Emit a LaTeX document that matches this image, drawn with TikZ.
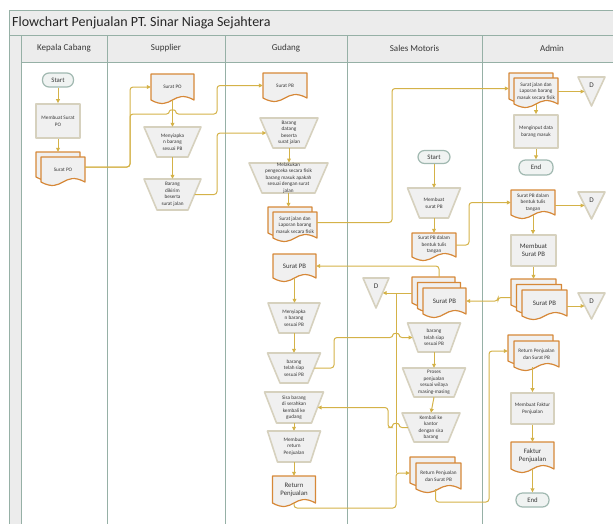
\documentclass[tikz,border=0pt]{standalone}
\usepackage{fontspec}
\setmainfont{Carlito}
\usetikzlibrary{arrows.meta,calc}

\definecolor{laneline}{RGB}{150,176,166}
\definecolor{bandfill}{RGB}{236,236,236}
\definecolor{shapefill}{RGB}{240,240,240}
\definecolor{procline}{RGB}{214,209,190}
\definecolor{docline}{RGB}{214,136,56}
\definecolor{termline}{RGB}{160,184,176}
\definecolor{termfill}{RGB}{240,243,242}
\definecolor{flow}{RGB}{212,178,72}
\definecolor{ink}{RGB}{55,55,55}

\tikzset{
  lane/.style={draw=laneline, line width=0.9pt},
  proc/.style={draw=procline, fill=shapefill, line width=1.6pt, line join=round},
  docu/.style={draw=docline, fill=shapefill, line width=1.2pt, line join=round},
  term/.style={draw=termline, fill=termfill, line width=1.2pt, rounded corners=6.5pt},
  lbl/.style={inner sep=0pt, text=ink, align=center, font=\fontsize{5.2}{6.5}\selectfont},
  lblm/.style={lbl, font=\fontsize{6.8}{8.2}\selectfont},
  head/.style={inner sep=0pt, text=ink, font=\fontsize{9}{11}\selectfont},
  flowline/.style={draw=flow, line width=1.0pt, rounded corners=3pt},
  conn/.style={flowline, -{Triangle[length=4pt,width=3.8pt]}},
  hop/.style={insert path={-- ($(#1)+(-3,0)$) .. controls ($(#1)+(-3,-4.5)$) and ($(#1)+(3,-4.5)$) .. ($(#1)+(3,0)$)}},
  hopback/.style={insert path={-- ($(#1)+(3,0)$) .. controls ($(#1)+(3,-4.5)$) and ($(#1)+(-3,-4.5)$) .. ($(#1)+(-3,0)$)}},
}

% document with wavy bottom: name, x, y, w, h, text style, text
\newcommand\docat[7]{%
  \path[docu] (#2,#3) -- ({#2+#4},#3) -- ({#2+#4},{#3+#5})
     .. controls ({#2+#4/2},{#3+#5-12}) and ({#2+#4/2},{#3+#5+12}) .. (#2,{#3+#5}) -- cycle;
  \node[#6, minimum width=#4, minimum height=#5] (#1) at ({#2+#4/2},{#3+#5/2}) {#7};}

% stack of documents: name, x, y, w, h, count, offset, text style, text
\newcommand\stackat[9]{%
  \foreach \k in {1,...,#6} {
    \pgfmathsetmacro\dd{(\k-1)*#7}
    \path[docu] ({#2+\dd},{#3+\dd}) -- ({#2+\dd+#4},{#3+\dd}) -- ({#2+\dd+#4},{#3+\dd+#5})
      .. controls ({#2+\dd+#4/2},{#3+\dd+#5-12}) and ({#2+\dd+#4/2},{#3+\dd+#5+12}) .. ({#2+\dd},{#3+\dd+#5}) -- cycle;
  }
  \node[inner sep=0pt, minimum width={#4+(#6-1)*#7}, minimum height={#5+(#6-1)*#7}] (#1)
     at ({#2+((#6-1)*#7+#4)/2},{#3+((#6-1)*#7+#5)/2}) {};
  \node[#8, minimum width=#4, minimum height=#5] (#1-t)
     at ({#2+(#6-1)*#7+#4/2},{#3+(#6-1)*#7+#5/2}) {#9};}

% manual operation (trapezoid): name, cx, top, top width, bottom width, height, text
\newcommand\trapat[7]{%
  \path[proc] ({#2-#4/2},#3) -- ({#2+#4/2},#3) -- ({#2+#5/2},{#3+#6}) -- ({#2-#5/2},{#3+#6}) -- cycle;
  \node[lbl, minimum width={(#4+#5)/2}, minimum height=#6] (#1) at (#2,{#3+#6/2}) {#7};}

% off-page reference: name, x, y, w, h
\newcommand\offat[5]{%
  \path[proc] (#2,#3) -- ({#2+#4},#3) -- ({#2+#4/2},{#3+#5}) -- cycle;
  \node[inner sep=0pt, minimum width={#4/2}, minimum height=#5] (#1) at ({#2+#4/2},{#3+#5/2}) {};
  \node[lblm, font=\fontsize{7.2}{8}\selectfont] (#1-t) at ({#2+#4/2},{#3+8}) {D};}

\begin{document}
\begin{tikzpicture}[x=1pt,y=-1pt]
\useasboundingbox (0,0) rectangle (613,523);

% swimlane frame
\path[fill=bandfill] (9,10) rectangle (620,35);
\path[fill=bandfill] (9,35) rectangle (21,530);
\path[fill=bandfill] (21,35) rectangle (620,62);
\draw[lane] (9,530) -- (9,10) -- (620,10);
\draw[lane] (9,35) -- (620,35);
\draw[lane] (21,62) -- (620,62);
\foreach \x in {21,107,225,347,482} \draw[lane] (\x,35) -- (\x,530);

\node[anchor=west, inner sep=0pt, text=black!85, font=\fontsize{14}{16}\selectfont] (title) at (12,22.5) {Flowchart Penjualan PT. Sinar Niaga Sejahtera};
\node[head] (hKC) at (64,48.5) {Kepala Cabang};
\node[head] (hSup) at (166,48.5) {Supplier};
\node[head] (hGd) at (286,48.5) {Gudang};
\node[head] (hSM) at (414.5,48.5) {Sales Motoris};
\node[head] (hAd) at (552,48.5) {Admin};

% Kepala Cabang
\node[term, lblm, minimum width=31, minimum height=14] (kcStart) at (58,80) {Start};
\node[proc, lbl, minimum width=44, minimum height=34] (kcMake) at (58,121) {Membuat Surat\\PO};
\stackat{kcPO}{36}{152}{44}{25}{2}{5}{lbl}{Surat PO}

% Supplier
\docat{supPO}{151}{74}{43}{26}{lbl}{Surat PO}
\trapat{supPrep}{172.5}{127}{57}{31}{30}{Menyiapka\\n barang\\sesuai PB}
\trapat{supSend}{172.5}{179}{57}{31}{31}{Barang\\dikirim\\beserta\\surat jalan}

% Gudang
\docat{gdPB1}{263}{73}{44}{25}{lbl}{Surat PB}
\trapat{gdCome}{289}{118}{58}{32}{30}{Barang\\datang\\beserta\\surat jalan}
\trapat{gdCheck}{288.5}{163}{79}{53}{30}{Melakukan\\pengeceka secara fisik\\barang masuk apakah\\sesuai dengan surat\\jalan}
\stackat{gdSJ}{268}{207}{44}{26}{2}{5}{lbl}{Surat jalan dan\\Laporan barang\\masuk secara fisik}
\docat{gdPB2}{273}{254}{43}{24}{lblm}{Surat PB}
\trapat{gdPrep}{294}{303}{52}{30}{30}{Menyiapka\\n barang\\sesuai PB}
\trapat{gdReady}{294}{353}{53}{28}{30}{barang\\telah siap\\sesuai PB}
\trapat{gdSisa}{294}{392}{59}{35}{31}{Sisa barang\\di serahkan\\kembali ke\\gudang}
\trapat{gdMakeRet}{294}{431}{53}{33}{31}{Membuat\\return\\Penjualan}
\docat{gdRet}{272.5}{476}{43}{27}{lblm}{Return\\Penjualan}

% Sales Motoris
\node[term, lblm, minimum width=32, minimum height=13] (smStart) at (434,157) {Start};
\trapat{smMake}{434}{188}{53}{29}{30}{Membuat\\surat PB}
\docat{smPB}{412}{233}{44}{24}{lbl}{Surat PB dalam\\bentuk tulis\\tangan}
\offat{smD}{363}{278}{26}{30}
\stackat{smStack}{412}{277}{43}{26}{3}{5.5}{lblm}{Surat PB}
\trapat{smReady}{434}{323}{53}{32}{29}{barang\\telah siap\\sesuai PB}
\trapat{smProc}{434}{368}{63}{40}{29}{Proses\\penjualan\\sesuai wilaya\\masing-masing}
\trapat{smBack}{431}{413}{58}{34}{29}{Kembali ke\\kantor\\dengan sisa\\barang}
\stackat{smRet}{410}{457}{45}{26}{2}{6}{lbl}{Return Penjualan\\dan Surat PB}

% Admin
\stackat{adSJ}{509}{73}{44}{26}{2}{5}{lbl}{Surat jalan dan\\Laporan barang\\masuk secara fisik}
\offat{adD1}{578}{77}{27}{29}
\node[proc, lbl, minimum width=44, minimum height=33] (adInput) at (536,131.5) {Menginput data\\barang masuk};
\node[term, lblm, minimum width=34, minimum height=15] (adEnd1) at (536,167.5) {End};
\docat{adPB}{511}{190}{44}{25}{lbl}{Surat PB dalam\\bentuk tulis\\tangan}
\offat{adD2}{578}{192}{27}{27}
\node[proc, lblm, minimum width=45, minimum height=31] (adMake) at (533.5,250.5) {Membuat\\Surat PB};
\stackat{adStack}{511}{279}{45}{26}{3}{5.5}{lblm}{Surat PB}
\offat{adD3}{578}{293}{27}{26}
\stackat{adRet}{508}{335}{45}{26}{2}{6}{lbl}{Return Penjualan\\dan Surat PB}
\node[proc, lbl, minimum width=43, minimum height=31] (adMakeF) at (532.5,408.5) {Membuat Faktur\\Penjualan};
\docat{adFak}{511}{442}{43}{27}{lblm}{Faktur\\Penjualan}
\node[term, lblm, minimum width=33, minimum height=14] (adEnd2) at (532.5,500) {End};

% routing columns and rows for the connectors
\coordinate (k4) at (130,0);
\coordinate (k5) at (217,0);
\coordinate (k6) at (392,0);
\coordinate (k7) at (469,0);
\coordinate (k8) at (498,0);
\coordinate (k10) at (334,0);
\coordinate (k11) at (388,0);
\coordinate (jx) at (396,0);
\coordinate (y114) at (0,114);
\coordinate (rb) at (396,508);
\coordinate (k3) at (489,502);

% connectors
\draw[conn] (kcStart.south) -- (kcMake.north);
\draw[conn] (kcMake.south) -- (kcMake.south |- kcPO.north);
\draw[conn] (kcPO.east) -- (kcPO.east -| k4) |- (supPO.west);
\coordinate (hp1) at (supPO.south |- y114);
\draw[conn] (kcPO.east) -- (kcPO.east -| k4) -- (hp1 -| k4) [hop=hp1] -- (hp1 -| k5) |- (gdPB1.west);
\draw[conn] (supPO.south) -- (supPrep.north);
\draw[conn] (supPrep.south) -- (supSend.north);
\draw[conn] (supSend.east) -- (supSend.east -| k5) |- (gdCome.west);
\draw[conn] (gdCome.south) -- (gdCome.south |- gdCheck.north);
\draw[conn] (gdCheck.south) -- (gdCheck.south |- gdSJ.north);
\draw[conn] (gdSJ.east) -- (gdSJ.east -| k6) |- (adSJ.west);
\draw[conn] (adD1.west -| adSJ.east) -- (adD1.west);
\draw[conn] (adSJ-t.south) -- (adSJ-t.south |- adInput.north);
\draw[conn] (adInput.south) -- (adEnd1.north);
\draw[conn] (smStart.south) -- (smMake.north);
\draw[conn] (smMake.south) -- (smPB.north);
\draw[conn] (smPB.east) -- (smPB.east -| k7) |- (adPB.west);
\draw[conn] (adD2.west -| adPB.east) -- (adD2.west);
\draw[conn] (adPB.south) -- (adPB.south |- adMake.north);
\draw[conn] (adMake.south) -- (adMake.south |- adStack.north);
\draw[conn] (adD3.west -| adStack.east) -- (adD3.west);
\draw[conn] (adStack.west) -- (adStack.west -| k8) |- (smStack-t.east);
\draw[conn] (smStack.north) |- (gdPB2.east);
\draw[conn] (smStack.west |- smD.east) -- (smD.east);
\draw[flowline] (smD.east -| jx) -- (smRet.west -| jx);
\draw[conn] (gdPB2.south) -- (gdPB2.south |- gdPrep.north);
\draw[conn] (gdPrep.south) -- (gdReady.north);
\coordinate (hp2) at (smReady.west -| jx);
\draw[conn] (gdReady.east) -- (gdReady.east -| k10) -- (hp2 -| k10) [hop=hp2] -- (smReady.west);
\draw[conn] (smReady.south) -- (smProc.north);
\draw[conn] (smProc.south) -- (smBack.north);
\coordinate (hp3) at (smBack.west -| jx);
\draw[conn] (smBack.west) [hopback=hp3] -- (hp3 -| k11) |- (gdSisa.east);
\draw[conn] (gdSisa.south) -- (gdMakeRet.north);
\draw[conn] (gdMakeRet.south) -- (gdMakeRet.south |- gdRet.north);
\draw[conn] (gdRet.south) |- (rb) |- (smRet.west);
\draw[conn] (smRet.south) |- (k3) |- (adRet.west);
\draw[conn] (adMakeF.north |- adRet-t.south) -- (adMakeF.north);
\draw[conn] (adMakeF.south) -- (adFak.north);
\draw[conn] (adFak.south) -- (adEnd2.north);
\end{tikzpicture}
\end{document}
